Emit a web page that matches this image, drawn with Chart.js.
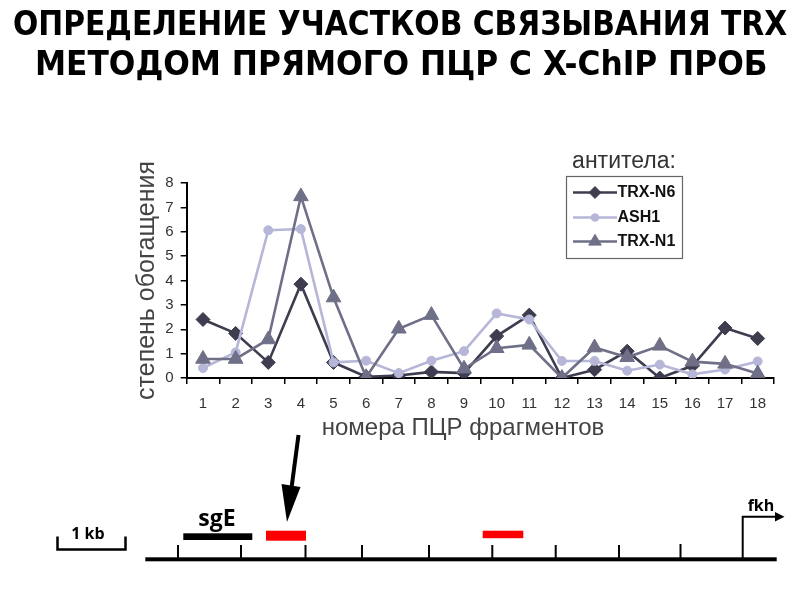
<!DOCTYPE html>
<html>
<head>
<meta charset="utf-8">
<script src="https://cdn.jsdelivr.net/npm/chart.js@4/dist/chart.umd.min.js"></script>
<style>
  html, body { margin: 0; padding: 0; background: #fff; }
  #wrap { position: relative; width: 800px; height: 600px; overflow: hidden; }
  #c { position: absolute; left: 0; top: 0; }
  .ttl { position: absolute; white-space: nowrap; font-family: "DejaVu Sans", sans-serif; font-weight: bold;
         font-size: 34px; color: #000; transform-origin: 0 50%; line-height: 40px; }
  svg { position: absolute; left: 0; top: 0; }
</style>
</head>
<body>
<div id="wrap">
  <canvas id="c" width="800" height="600"></canvas>
  <div class="ttl" id="t1">ОПРЕДЕЛЕНИЕ УЧАСТКОВ СВЯЗЫВАНИЯ TRX</div>
  <div class="ttl" id="t2">МЕТОДОМ ПРЯМОГО ПЦР С X-ChIP ПРОБ</div>
  <svg width="800" height="600" viewBox="0 0 800 600">
    <!-- arrow -->
    <line x1="298.5" y1="435" x2="291.5" y2="488" stroke="#000" stroke-width="4"/>
    <polygon points="281.5,484 300.5,487 287,522" fill="#000"/>
    <!-- scale bar -->
    <polyline points="57.5,536.5 57.5,549.5 125.5,549.5 125.5,536.5" fill="none" stroke="#000" stroke-width="2.5"/>
    <text x="88" y="538.5" font-family="Open Sans" font-weight="bold" font-size="16" text-anchor="middle" fill="#000">1 kb</text>
    <!-- sgE -->
    <text x="217" y="526" font-family="Open Sans" font-weight="bold" font-size="23" text-anchor="middle" fill="#000">sgE</text>
    <rect x="183.3" y="533.3" width="69" height="6.7" fill="#000"/>
    <!-- red fragments -->
    <rect x="266" y="530.7" width="40" height="10" fill="#f00"/>
    <rect x="482.7" y="530.7" width="40.6" height="7.5" fill="#f00"/>
    <!-- baseline -->
    <rect x="145.3" y="557.3" width="631.4" height="4" fill="#000"/>
    <g stroke="#000" stroke-width="2">
      <line x1="178" y1="545" x2="178" y2="558"/>
      <line x1="241" y1="545" x2="241" y2="558"/>
      <line x1="305.5" y1="545" x2="305.5" y2="558"/>
      <line x1="362" y1="545" x2="362" y2="558"/>
      <line x1="429" y1="545" x2="429" y2="558"/>
      <line x1="492.3" y1="545" x2="492.3" y2="558"/>
      <line x1="555.7" y1="545" x2="555.7" y2="558"/>
      <line x1="619" y1="545" x2="619" y2="558"/>
      <line x1="680.5" y1="544" x2="680.5" y2="558"/>
    </g>
    <!-- fkh -->
    <polyline points="742.7,558 742.7,516.7 776,516.7" fill="none" stroke="#000" stroke-width="2"/>
    <polygon points="775,512 784.5,516.7 775,521.4" fill="#000"/>
    <text x="761" y="510.7" font-family="Open Sans" font-weight="bold" font-size="16" text-anchor="middle" fill="#000">fkh</text>
  </svg>
</div>
<script>
// ---- data ----
const categories = ['1','2','3','4','5','6','7','8','9','10','11','12','13','14','15','16','17','18'];
const seriesNames = ['TRX-N6', 'ASH1', 'TRX-N1'];
const trxN6 = [2.4, 1.83, 0.64, 3.85, 0.64, 0.05, 0.1, 0.25, 0.2, 1.72, 2.58, 0, 0.34, 1.1, 0, 0.5, 2.05, 1.62];
const ash1  = [0.41, 1.05, 6.06, 6.11, 0.64, 0.71, 0.2, 0.71, 1.1, 2.65, 2.4, 0.7, 0.7, 0.3, 0.55, 0.15, 0.35, 0.68];
const trxN1 = [0.78, 0.78, 1.58, 7.45, 3.3, 0.03, 2.02, 2.58, 0.38, 1.22, 1.36, 0, 1.25, 0.85, 1.32, 0.67, 0.58, 0.18];
const yTickValues = [0, 1, 2, 3, 4, 5, 6, 7, 8];
const legendTitle = 'антитела:';
const xTitle = 'номера ПЦР фрагментов';
const yTitle = 'степень обогащения';

// ---- title fit ----
function fitTitle(id, left, right, cy) {
  const el = document.getElementById(id);
  const w = el.offsetWidth;
  const s = (right - left) / w;
  el.style.left = left + 'px';
  el.style.top = (cy - 20) + 'px';
  el.style.transform = 'scaleX(' + s + ')';
}
fitTitle('t1', 13, 787, 23);
fitTitle('t2', 35, 768, 63);

const styles = {
  'TRX-N6': { color: '#3d3d4f', pointStyle: 'rectRot', radius: 7, order: 2 },
  'ASH1':   { color: '#b6b6d8', pointStyle: 'circle', radius: 4.5, order: 1 },
  'TRX-N1': { color: '#6f6f88', pointStyle: 'triangle', radius: 8.5, order: 0 }
};
const values = { 'TRX-N6': trxN6, 'ASH1': ash1, 'TRX-N1': trxN1 };

const datasets = seriesNames.map(n => ({
  label: n,
  data: values[n],
  borderColor: styles[n].color,
  backgroundColor: styles[n].color,
  pointBackgroundColor: styles[n].color,
  pointBorderColor: styles[n].color,
  pointBorderWidth: 1,
  pointStyle: styles[n].pointStyle,
  pointRadius: styles[n].radius,
  borderWidth: 2.6,
  tension: 0,
  order: styles[n].order
}));

const legendPlugin = {
  id: 'customLegend',
  afterDraw(chart) {
    const ctx = chart.ctx;
    ctx.save();
    // x-axis title (shifted left as in the original)
    ctx.fillStyle = '#444';
    ctx.font = '24px "Liberation Sans", Arial, sans-serif';
    ctx.textAlign = 'center';
    ctx.textBaseline = 'middle';
    ctx.fillText(xTitle, 463, 428);

    ctx.fillStyle = '#333';
    ctx.font = '23px "Liberation Sans", Arial, sans-serif';
    ctx.fillText(legendTitle, 624, 162);
    ctx.strokeStyle = '#666';
    ctx.lineWidth = 1.2;
    ctx.strokeRect(566.5, 176.5, 116, 82);
    const ys = [192.5, 217.5, 241.5];
    seriesNames.forEach((n, i) => {
      const st = styles[n];
      const y = ys[i];
      ctx.strokeStyle = st.color;
      ctx.lineWidth = 2.6;
      ctx.beginPath();
      ctx.moveTo(573, y);
      ctx.lineTo(617, y);
      ctx.stroke();
      ctx.fillStyle = st.color;
      ctx.strokeStyle = st.color;
      ctx.lineWidth = 1;
      Chart.helpers.drawPoint(ctx, { pointStyle: st.pointStyle, radius: st.radius * 0.85, rotation: 0, borderWidth: 1 }, 595, y);
      ctx.fillStyle = '#111';
      ctx.font = 'bold 16px "Liberation Sans", Arial, sans-serif';
      ctx.textAlign = 'left';
      ctx.fillText(n, 617.5, y + 0.5);
    });
    ctx.restore();
  }
};

new Chart(document.getElementById('c'), {
  type: 'line',
  data: { labels: categories, datasets },
  options: {
    responsive: false,
    animation: false,
    events: [],
    layout: { padding: { left: 128.6, right: 26, top: 183, bottom: 153.6 } },
    plugins: { legend: { display: false }, tooltip: { enabled: false }, title: { display: false } },
    scales: {
      x: {
        type: 'category',
        offset: true,
        afterFit(s) { s.height = 68.4; },
        border: { display: true, color: '#000', width: 2 },
        grid: { offset: true, drawOnChartArea: false, drawTicks: true, tickLength: 6, color: '#000', lineWidth: 1.5 },
        ticks: { color: '#333', padding: 11, maxRotation: 0, autoSkip: false,
                 font: { family: '"Liberation Sans", Arial, sans-serif', size: 15 } },
        title: { display: false }
      },
      y: {
        min: 0, max: 8,
        afterFit(s) { s.width = 58.1; },
        afterBuildTicks(s) { s.ticks = yTickValues.map(v => ({ value: v })); },
        border: { display: true, color: '#000', width: 2 },
        grid: { drawOnChartArea: false, drawTicks: true, tickLength: 6, color: '#000', lineWidth: 1.5 },
        ticks: { color: '#333', padding: 7, stepSize: 1,
                 font: { family: '"Liberation Sans", Arial, sans-serif', size: 15 } },
        title: { display: true, text: yTitle, color: '#444', padding: { top: 4, bottom: 0 },
                 font: { family: '"Liberation Sans", Arial, sans-serif', size: 25 } }
      }
    }
  },
  plugins: [legendPlugin]
});
</script>
</body>
</html>
